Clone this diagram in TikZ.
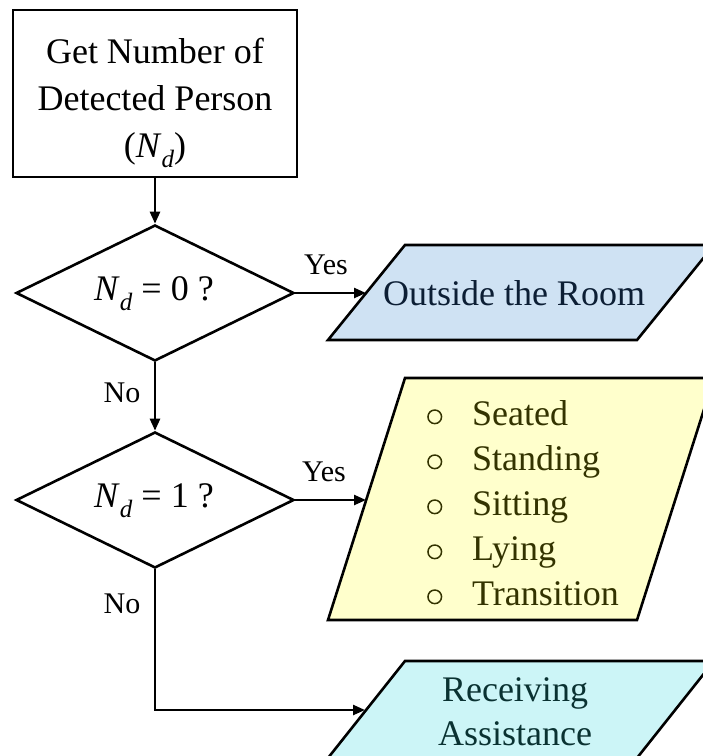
\documentclass[tikz,border=0pt]{standalone}
\usepackage{fontspec}
\setmainfont{Liberation Serif}
\usetikzlibrary{shapes.geometric,arrows.meta}
\definecolor{boxblue}{RGB}{207,226,243}
\definecolor{boxyellow}{RGB}{255,255,204}
\definecolor{boxcyan}{RGB}{204,245,247}
\definecolor{txtblue}{RGB}{12,30,52}
\definecolor{txtolive}{RGB}{51,51,0}
\definecolor{txtteal}{RGB}{10,50,50}
\newcommand{\Nd}{\textit{N}\raisebox{-0.28em}{\fontsize{25}{25}\selectfont\textit{d}}}
\newcommand{\bul}{\makebox[45pt][l]{\tikz[baseline=-8.5pt]\draw[draw=txtolive, line width=1.5pt] (0pt,0pt) circle[radius=6.8pt];}}
\begin{document}
\begin{tikzpicture}[x=1pt,y=-1pt,
  line width=2.6pt,
  every node/.style={font=\fontsize{36}{45}\selectfont},
  decision/.style={draw, diamond, inner sep=0pt, minimum width=278pt, minimum height=136pt},
  procbox/.style={draw, rectangle, inner sep=0pt, minimum width=284pt, minimum height=167pt},
  lbl/.style={font=\fontsize{30}{30}\selectfont, inner sep=0pt},
  flow/.style={-{Triangle[length=12pt,width=10pt]}, line width=2.4pt},
  para/.style={draw, line width=2.6pt, line join=miter}
]
\useasboundingbox (0,0) rectangle (703,756);

% process box
\node[procbox] (box) at (155,93.5) {};
\node[align=center, inner sep=0pt, font=\fontsize{36}{47}\selectfont] (boxtxt) at (155,103) {Get Number of\\Detected Person\\(\Nd)};

% decisions
\node[decision] (d1) at (155,293) {};
\node[inner sep=0pt] (d1txt) at (154,294) {\Nd\ = 0 ?};
\node[decision] (d2) at (155,500) {};
\node[inner sep=0pt] (d2txt) at (154,501) {\Nd\ = 1 ?};

% parallelograms
\path[para, fill=boxblue] (328,340) -- (637,340) -- (714,245) -- (405,245) -- cycle;
\node[text=txtblue, inner sep=0pt] (outside) at (514,293) {Outside the Room};
\coordinate (outin) at (366,293);

\path[para, fill=boxyellow] (328,620) -- (637,620) -- (714,378) -- (405,378) -- cycle;
\node[text=txtolive, align=left, anchor=west, inner sep=0pt] (posture) at (427,503)
  {\bul Seated\\\bul Standing\\\bul Sitting\\\bul Lying\\\bul Transition};
\coordinate (postin) at (366,500);

\path[para, fill=boxcyan] (328,758) -- (637,758) -- (714,661) -- (405,661) -- cycle;
\node[text=txtteal, align=center, inner sep=0pt, font=\fontsize{36}{44}\selectfont] (assist) at (515,712) {Receiving\\Assistance};
\coordinate (assistin) at (365,710);

% connectors
\draw[flow] (box) -- (d1);
\draw[flow] (d1.east) -- (outin);
\draw[flow] (d1.south) -- (d2.north);
\draw[flow] (d2.east) -- (postin);
\draw[flow] (d2.south) |- (assistin);

% labels
\node[lbl] (yes1) at (326,265) {Yes};
\node[lbl] (no1) at (122,393) {No};
\node[lbl] (yes2) at (324,472) {Yes};
\node[lbl] (no2) at (122,604) {No};
\end{tikzpicture}
\end{document}
